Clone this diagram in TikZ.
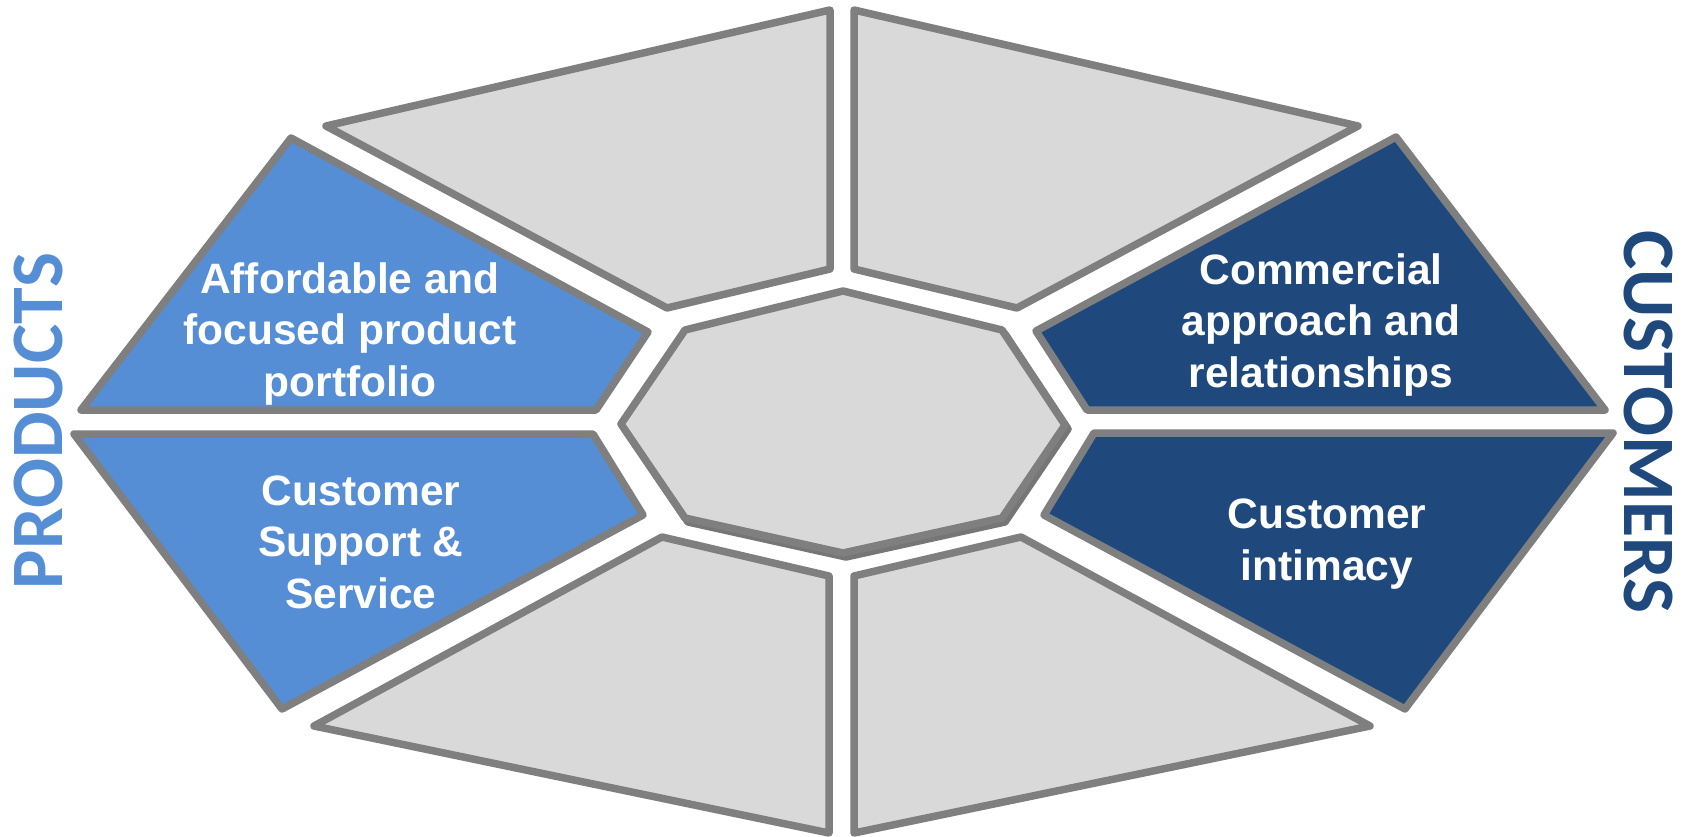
\documentclass[tikz,border=0pt]{standalone}
\usepackage{fontspec}
\setmainfont{Liberation Sans}
\newfontfamily\carlito{Carlito}
\definecolor{segline}{HTML}{7F7F7F}
\definecolor{seggray}{HTML}{D9D9D9}
\definecolor{shadowgray}{HTML}{767676}
\definecolor{lightblue}{HTML}{558ED5}
\definecolor{darkblue}{HTML}{1F497D}
\begin{document}
\begin{tikzpicture}[x=1pt,y=-1pt,
  seg/.style={draw=segline, line width=7.5pt, line join=round},
  grayseg/.style={seg, fill=seggray},
  lightseg/.style={seg, fill=lightblue},
  darkseg/.style={seg, fill=darkblue},
  lbl/.style={text=white, font=\bfseries\fontsize{42.5}{51.5}\selectfont, align=center, inner sep=0pt},
  side/.style={font=\carlito\bfseries\fontsize{74}{74}\selectfont, inner sep=0pt}]
\useasboundingbox[fill=white] (0,0) rectangle (1689,837);
% grey outer segments
\draw[grayseg] (326,126) -- (830,10) -- (830,269) -- (667,308) -- cycle;
\draw[grayseg] (854,10) -- (1358,126) -- (1017,308) -- (854,269) -- cycle;
\draw[grayseg] (662,537) -- (829,576) -- (829,833) -- (314,726) -- cycle;
\draw[grayseg] (1021,537) -- (1370,726) -- (854,833) -- (854,576) -- cycle;
% coloured segments
\draw[lightseg] (291,138) -- (648,332) -- (596,410) -- (81,410) -- cycle;
\draw[lightseg] (74,434) -- (593,434) -- (643,515) -- (282,709) -- cycle;
\draw[darkseg] (1396,137) -- (1036,331) -- (1087,410) -- (1605,410) -- cycle;
\draw[darkseg] (1094,433) -- (1613,433) -- (1405,709) -- (1044,515) -- cycle;
% centre octagon with shadow
\draw[seg, draw=shadowgray, fill=shadowgray, shift={(3,4)}] (843,291) -- (1002,330) -- (1065,425) -- (1002,518) -- (843,553) -- (685,518) -- (621,424) -- (685,330) -- cycle;
\draw[grayseg] (843,291) -- (1002,330) -- (1065,425) -- (1002,518) -- (843,553) -- (685,518) -- (621,424) -- (685,330) -- cycle;
% labels
\node[lbl] (aff) at (350,334) {Affordable and\\focused product\\portfolio};
\node[lbl] (sup) at (361,542) {Customer\\Support \&\\Service};
\node[lbl] (com) at (1321,325) {Commercial\\approach and\\relationships};
\node[lbl] (inti) at (1327,544) {Customer\\intimacy};
\node[side, text=lightblue, rotate=90] (prod) at (39,421) {PRODUCTS};
\node[side, text=darkblue, rotate=-90] (cust) at (1648,422) {CUSTOMERS};
\end{tikzpicture}
\end{document}
